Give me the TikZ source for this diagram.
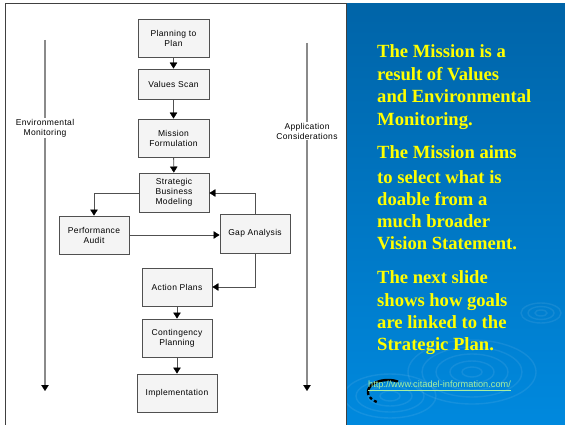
\documentclass[tikz,border=0pt]{standalone}
\usepackage{fontspec}
\setmainfont{Liberation Serif}
\setsansfont{Liberation Sans}
\newfontfamily\boxfont[LetterSpace=4]{Liberation Sans}
\usetikzlibrary{arrows.meta}
\definecolor{panelTop}{HTML}{0064A8}
\definecolor{panelBot}{HTML}{0089DE}
\definecolor{boxfill}{HTML}{F4F4F4}
\definecolor{boxline}{HTML}{505050}
\definecolor{sideline}{HTML}{8A8A8A}
\definecolor{slidetext}{HTML}{FFFF00}
\definecolor{linkgreen}{HTML}{A8F0A0}
\tikzset{
  stepbox/.style={draw=boxline, line width=0.9pt, fill=boxfill,
    minimum width=70pt, minimum height=38pt, inner sep=1pt,
    align=center, font=\boxfont\fontsize{8.5}{10}\selectfont},
  tip/.style={-{Triangle[width=7.5pt,length=6pt,color=black,fill=black,line width=0.4pt]}},
  flow/.style={draw=boxline, line width=0.9pt, tip},
  sideflow/.style={draw=sideline, line width=1.3pt, tip},
  sidelabel/.style={fill=white, inner sep=1pt, align=center,
    font=\boxfont\fontsize{8.5}{10}\selectfont},
  slideline/.style={anchor=base west, inner sep=0pt, text=slidetext,
    font=\fontsize{18.6}{22.7}\selectfont\bfseries},
  ripple/.style={draw=white, draw opacity=0.08, line width=1.4pt}
}
\begin{document}
\begin{tikzpicture}[x=1pt,y=-1pt]
\useasboundingbox (0,0) rectangle (565,425);
\fill[white] (0,0) rectangle (565,425);

% right-hand slide panel
\shade[top color=panelTop, bottom color=panelBot] (347,4) rectangle (565,425);
\foreach \rx/\ry in {64/32,50/25,36/18,22/11,10/5}
  \draw[ripple] (472,372) ellipse[x radius=\rx, y radius=\ry];
\foreach \rx/\ry in {46/22,34/16,22/10,10/5}
  \draw[ripple] (390,396) ellipse[x radius=\rx, y radius=\ry];
\foreach \rx/\ry in {20/10,13/6.5,6/3}
  \draw[ripple] (541,313) ellipse[x radius=\rx, y radius=\ry];

% frame of the diagram area
\draw[draw=black!75, line width=1pt] (5,425) -- (5,4) -- (346.5,4) -- (346.5,425);

% process boxes
\node[stepbox, minimum width=71pt] (plan)    at (173.5,38)  {Planning to\\Plan};
\node[stepbox, minimum width=71pt, minimum height=30pt] (values) at (173.5,84) {Values Scan};
\node[stepbox, minimum width=71pt] (mission) at (173.5,138) {Mission\\Formulation};
\node[stepbox, minimum height=39pt] (sbm)    at (174,192.5) {Strategic\\Business\\Modeling};
\node[stepbox] (perf)    at (94,235)    {Performance\\Audit};
\node[stepbox, minimum height=39pt] (gap)    at (255,233.5) {Gap Analysis};
\node[stepbox] (action)  at (177,287)   {Action Plans};
\node[stepbox] (cont)    at (177,338)   {Contingency\\Planning};
\node[stepbox, minimum width=80pt] (impl) at (177,393) {Implementation};

% connectors
\draw[flow] (plan) -- (values);
\draw[flow] (values) -- (mission);
\draw[flow] (mission) -- (sbm);
\draw[flow] (sbm.west |- 0,193) -| (perf.north);
\draw[flow] (gap.north) |- (sbm.east |- 0,193);
\draw[flow] (perf.east |- 0,235) -- (gap.west |- 0,235);
\draw[flow] (gap.south) |- (action.east);
\draw[flow] (action) -- (cont);
\draw[flow] (cont) -- (impl);

% side streams
\coordinate (envtop) at (45,40);
\coordinate (envend) at (45,391);
\coordinate (apptop) at (307,43);
\coordinate (append) at (307,391);
\draw[sideflow] (envtop) -- (envend);
\draw[sideflow] (apptop) -- (append);
\node[sidelabel] (env) at (45,128) {Environmental\\Monitoring};
\node[sidelabel] (app) at (307,131) {Application\\Considerations};

% slide text
\foreach \yy/\txt [count=\i] in {
  58/The Mission is a, 81/result of Values, 103/and Environmental,
  126/Monitoring., 159/The Mission aims, 183/to select what is,
  205/doable from a, 227/much broader, 249/Vision Statement.,
  283/The next slide, 306/shows how goals, 328/are linked to the,
  350/Strategic Plan.}
  \node[slideline] (line\i) at (377,\yy) {\txt};

% link and its cursor ring
\draw[black, line width=2.4pt] plot[domain=300:180, samples=50, variable=\t]
  ({388+20*cos(\t)},{392+12*sin(\t)});
\draw[black, line width=2.4pt, dash pattern=on 3pt off 2.5pt] plot[domain=180:118, samples=30, variable=\t]
  ({388+20*cos(\t)},{392+12*sin(\t)});
\node[anchor=base west, inner sep=0pt, text=linkgreen, font=\sffamily\fontsize{9.2}{11}\selectfont] (url) at (368,387)
  {\underline{http://www.citadel-information.com/}};
\end{tikzpicture}
\end{document}
